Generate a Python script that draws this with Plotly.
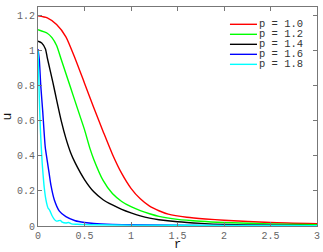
import plotly.graph_objects as go

labels = ["p = 1.0", "p = 1.2", "p = 1.4", "p = 1.6", "p = 1.8"]
colors = ["#ff0000", "#00ff00", "#000000", "#0000ff", "#00ffff"]

r_red = [0, 0.1, 0.2, 0.3, 0.4, 0.5, 0.6, 0.7, 0.8, 0.9, 1.0, 1.1, 1.2, 1.3, 1.4, 1.6, 1.8, 2.0, 2.5, 3.0]
u_red = [1.20, 1.188, 1.15, 1.08, 0.955, 0.815, 0.675, 0.54, 0.41, 0.30, 0.215, 0.155, 0.113, 0.087, 0.068, 0.05, 0.04, 0.033, 0.02, 0.013]

r_green = [0, 0.1, 0.15, 0.2, 0.25, 0.3, 0.35, 0.4, 0.45, 0.5, 0.56, 0.6, 0.7, 0.8, 0.9, 1.0, 1.1, 1.2, 1.3, 1.5, 1.75, 2.0, 2.5, 3.0]
u_green = [1.12, 1.10, 1.075, 1.03, 0.95, 0.87, 0.79, 0.71, 0.63, 0.55, 0.44, 0.38, 0.26, 0.185, 0.14, 0.11, 0.088, 0.07, 0.055, 0.038, 0.027, 0.02, 0.012, 0.008]

r_black = [0, 0.04, 0.08, 0.1, 0.13, 0.16, 0.2, 0.25, 0.3, 0.35, 0.4, 0.5, 0.6, 0.7, 0.8, 0.9, 1.0, 1.1, 1.2, 1.3, 1.5, 1.75, 2.0, 2.5, 3.0]
u_black = [1.055, 1.045, 1.01, 0.96, 0.89, 0.82, 0.72, 0.60, 0.50, 0.42, 0.36, 0.265, 0.195, 0.15, 0.12, 0.095, 0.075, 0.058, 0.045, 0.036, 0.024, 0.015, 0.009, 0.004, 0.002]

r_blue = [0, 0.014, 0.03, 0.05, 0.078, 0.1, 0.12, 0.14, 0.175, 0.23, 0.3, 0.4, 0.5, 0.6, 0.8, 1.0, 1.5, 2.0, 3.0]
u_blue = [1.01, 0.95, 0.80, 0.66, 0.45, 0.37, 0.30, 0.23, 0.15, 0.085, 0.053, 0.03, 0.02, 0.014, 0.009, 0.007, 0.004, 0.003, 0.002]

r_cyan = [0, 0.008, 0.016, 0.025, 0.035, 0.045, 0.055, 0.067, 0.085, 0.1, 0.11, 0.12, 0.13, 0.15, 0.18, 0.2, 0.22, 0.24, 0.26, 0.3, 0.33, 0.36, 0.42, 0.5, 0.6, 1.0, 2.0, 3.0]
u_cyan = [1.0, 0.85, 0.70, 0.56, 0.45, 0.36, 0.29, 0.22, 0.15, 0.115, 0.10, 0.095, 0.085, 0.06, 0.035, 0.028, 0.03, 0.032, 0.022, 0.017, 0.02, 0.012, 0.01, 0.008, 0.007, 0.005, 0.003, 0.002]

series = [(r_red, u_red), (r_green, u_green), (r_black, u_black), (r_blue, u_blue), (r_cyan, u_cyan)]

x_ticks = [0, 0.5, 1, 1.5, 2, 2.5, 3]
x_ticktext = ["0", "0.5", "1", "1.5", "2", "2.5", "3"]
y_ticks = [0, 0.2, 0.4, 0.6, 0.8, 1.0, 1.2]
y_ticktext = ["0", "0.2", "0.4", "0.6", "0.8", "1", "1.2"]
x_title = "r"
y_title = "u"

fig = go.Figure()
for (rr, uu), lab, col in zip(series, labels, colors):
    fig.add_trace(go.Scatter(x=rr, y=uu, mode="lines", name=lab,
                             line=dict(color=col, width=1.4, shape="spline", smoothing=0.6),
                             showlegend=False))

# manual legend (compact, like the original)
leg_y0 = 0.921
leg_dy = 0.0457
for i, (lab, col) in enumerate(zip(labels, colors)):
    yy = leg_y0 - i * leg_dy
    fig.add_shape(type="line", xref="paper", yref="paper", x0=0.688, x1=0.785, y0=yy, y1=yy,
                  line=dict(color=col, width=1.4))
    fig.add_annotation(xref="paper", yref="paper", x=0.789, y=yy, text=lab, showarrow=False,
                       xanchor="left", yanchor="middle", borderpad=0,
                       font=dict(family="Liberation Mono", size=10.5, color="#333333"))

# x-axis title placed just below the tick labels
fig.add_annotation(xref="paper", yref="paper", x=0.5, y=0, yanchor="top", yshift=-11,
                   text=x_title, showarrow=False, borderpad=0,
                   font=dict(family="Liberation Mono", size=12, color="#111111"))

axis_common = dict(showline=True, linecolor="#777777", linewidth=1, mirror="ticks",
                   ticks="inside", ticklen=4, tickcolor="#777777", showgrid=False, zeroline=False,
                   automargin=False,
                   tickfont=dict(family="Liberation Mono", size=10, color="#666666"))

fig.update_layout(
    width=323, height=252,
    margin=dict(l=38, r=6, t=7, b=26),
    paper_bgcolor="white", plot_bgcolor="white",
    xaxis=dict(range=[0, 3], tickvals=x_ticks, ticktext=x_ticktext, **axis_common),
    yaxis=dict(range=[0, 1.25], tickvals=y_ticks, ticktext=y_ticktext,
               title=dict(text=y_title, font=dict(family="Liberation Mono", size=13, color="#111111")),
               **axis_common),
    showlegend=False,
)

fig.write_html("out.html", config={"displayModeBar": False},
               post_script="document.body.style.margin='0';document.body.style.overflow='hidden';")
